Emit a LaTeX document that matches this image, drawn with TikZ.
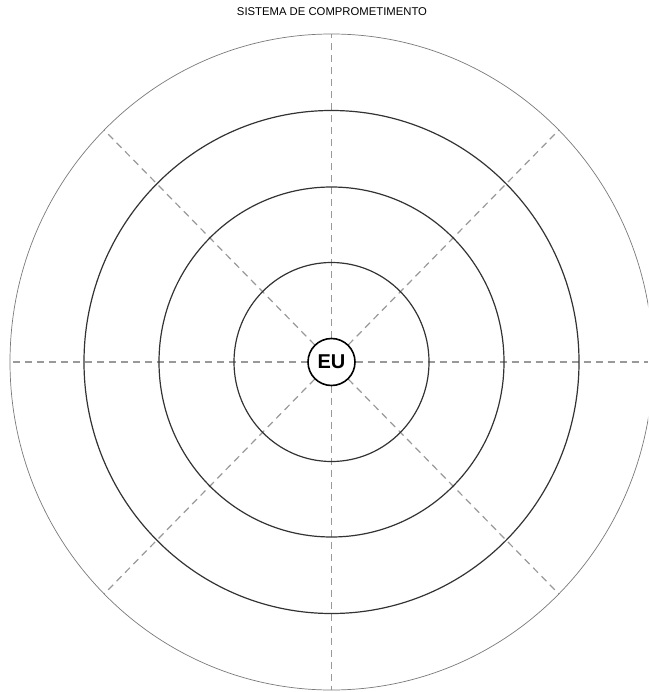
\documentclass[tikz,border=0pt]{standalone}
\usepackage{fontspec}
\setmainfont{Liberation Sans}
\usetikzlibrary{calc}

\begin{document}
\begin{tikzpicture}[x=1pt, y=-1pt]
    % Define colours
    \definecolor{rayColour}{HTML}{999999}
    \definecolor{outerColour}{HTML}{7A7A7A}
    \definecolor{ringColour}{HTML}{333333}

    % Define outer radii (horizontal and vertical)
    \def\outerX{321.5}
    \def\outerY{328}

    % Canvas
    \clip (0,0) rectangle (648,692);
    \fill[white] (0,0) rectangle (648,692);
    \coordinate (centre) at (331.5,362);

    % Title
    \node[font=\fontsize{11.3}{13}\selectfont] (title) at (332,12) {SISTEMA DE COMPROMETIMENTO};

    % Draw dashed rays, one every 45 degrees
    \foreach \a in {45,90,...,315}
        \draw[rayColour, line width=1.2pt, dash pattern=on 7pt off 5pt]
            (centre) -- ($(centre)+(\a:\outerX pt and -\outerY pt)$);
    % The horizontal ray to the right runs on to the edge
    \coordinate (edgeRight) at (648,362);
    \draw[rayColour, line width=1.2pt, dash pattern=on 7pt off 5pt] (centre) -- (edgeRight);

    % Draw outer circle
    \draw[outerColour, line width=0.7pt] (centre) ellipse [x radius=\outerX, y radius=\outerY];

    % Draw inner rings
    \foreach \rx/\ry in {247.5/251.5, 172.5/175, 97.5/99.5}
        \draw[ringColour, line width=1.2pt] (centre) ellipse [x radius=\rx, y radius=\ry];

    % Centre label
    \node[draw=black, fill=white, line width=1.6pt, circle, minimum size=47pt, inner sep=0pt,
          font=\bfseries\fontsize{20}{22}\selectfont] (eu) at (centre) {EU};

\end{tikzpicture}
\end{document}
